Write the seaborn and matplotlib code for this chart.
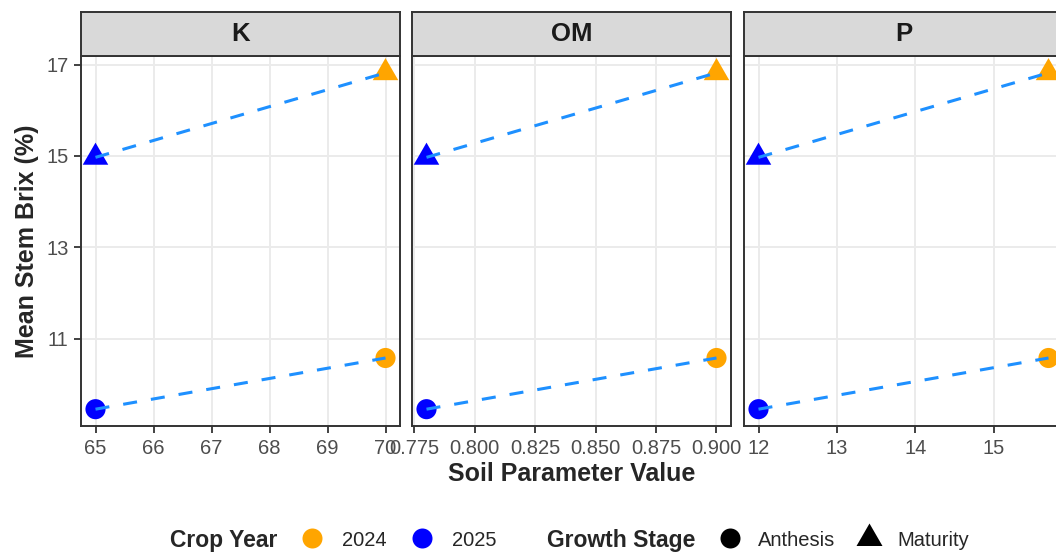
import numpy as np
import pandas as pd
import matplotlib
matplotlib.use("Agg")
import matplotlib.pyplot as plt
from matplotlib.path import Path
from matplotlib.lines import Line2D
from matplotlib.ticker import MultipleLocator, FormatStrFormatter
import seaborn as sns

# ---- data -------------------------------------------------------------
soil_params = ["K", "OM", "P"]
crop_years = ["2024", "2025"]
growth_stages = ["Anthesis", "Maturity"]

# soil parameter level per crop year (K, OM, P)
param_2024 = [70.0, 0.90, 15.7]
param_2025 = [65.0, 0.78, 12.0]

# mean stem brix per growth stage (2024, 2025)
brix_anthesis = [10.58, 9.46]
brix_maturity = [16.82, 14.97]

year_colors = {"2024": "#FFA500", "2025": "#0000FF"}
trend_color = "#1E90FF"

rows = []
for i, p in enumerate(soil_params):
    for j, yr in enumerate(crop_years):
        val = param_2024[i] if yr == "2024" else param_2025[i]
        rows.append((p, yr, "Anthesis", val, brix_anthesis[j]))
        rows.append((p, yr, "Maturity", val, brix_maturity[j]))
df = pd.DataFrame(rows, columns=["param", "year", "stage", "value", "brix"])

# ---- style ------------------------------------------------------------
sns.set_theme(style="white")
plt.rcParams["font.family"] = ["Liberation Sans", "DejaVu Sans"]
plt.rcParams["axes.xmargin"] = 0.05
plt.rcParams["axes.ymargin"] = 0.05

# equilateral triangle centred on its centroid
tri = Path([(0, 1.0), (-0.866, -0.5), (0.866, -0.5), (0, 1.0)],
           [Path.MOVETO, Path.LINETO, Path.LINETO, Path.CLOSEPOLY])

W, H = 1056, 554
fig = plt.figure(figsize=(W / 100, H / 100), dpi=100)

panel_left = [81, 412, 744]
panel_w = 319
panel_top, panel_bottom = 56, 426
strip_top = 12

x_steps = {"K": 1, "OM": 0.025, "P": 1}
x_fmt = {"K": "%d", "OM": "%.3f", "P": "%d"}

grey20 = "#333333"
axes = []
for k, p in enumerate(soil_params):
    l = panel_left[k]
    ax = fig.add_axes([l / W, (H - panel_bottom) / H, panel_w / W,
                       (panel_bottom - panel_top) / H])
    if axes:
        ax.sharey(axes[0])
    axes.append(ax)
    sub = df[df["param"] == p]

    sns.scatterplot(data=sub, x="value", y="brix", hue="year", style="stage",
                    size="stage", sizes={"Anthesis": 210, "Maturity": 450},
                    palette=year_colors,
                    markers={"Anthesis": "o", "Maturity": tri},
                    linewidth=0, legend=False, ax=ax, zorder=2)
    for st in growth_stages:
        sns.regplot(data=sub[sub["stage"] == st], x="value", y="brix",
                    scatter=False, ci=None, truncate=True, color=trend_color,
                    line_kws=dict(lw=2.2, ls=(0, (4.6, 4.6)), zorder=3),
                    ax=ax)

    ax.set_xlabel("")
    ax.set_ylabel("")
    ax.xaxis.set_major_locator(MultipleLocator(x_steps[p]))
    ax.xaxis.set_major_formatter(FormatStrFormatter(x_fmt[p]))
    ax.yaxis.set_major_locator(MultipleLocator(2, offset=1))
    ax.grid(True, color="#EBEBEB", lw=1.4)
    ax.set_axisbelow(True)
    for sp in ax.spines.values():
        sp.set_color(grey20)
        sp.set_linewidth(1.4)
        sp.set_zorder(5)
    ax.tick_params(axis="both", which="major", length=5, width=1.3,
                   color=grey20, labelcolor="#4D4D4D", labelsize=14.5, pad=4,
                   bottom=True, left=(k == 0), labelleft=(k == 0))

    # facet strip
    sax = fig.add_axes([l / W, (H - panel_top) / H, panel_w / W,
                        (panel_top - strip_top) / H])
    sax.set_facecolor("#D9D9D9")
    sax.set_xticks([])
    sax.set_yticks([])
    for sp in sax.spines.values():
        sp.set_color(grey20)
        sp.set_linewidth(1.4)
    sax.text(0.5, 0.5, p, ha="center", va="center", fontsize=18.5,
             fontweight="bold", color="#1A1A1A", transform=sax.transAxes)

fig.text(572 / W, 1 - 474 / H, "Soil Parameter Value", ha="center",
         va="center", fontsize=18, fontweight="bold")
fig.text(27 / W, 1 - 241 / H, "Mean Stem Brix (%)", ha="center",
         va="center", rotation=90, fontsize=18, fontweight="bold")

# ---- legends at the bottom ---------------------------------------------
leg_y = 1 - 540 / H
fig.text(170 / W, leg_y, "Crop Year", ha="left", va="center",
         fontsize=16.5, fontweight="bold")
fig.text(547 / W, leg_y, "Growth Stage", ha="left", va="center",
         fontsize=16.5, fontweight="bold")

year_handles = [Line2D([], [], ls="", marker="o", markersize=14.4,
                       markerfacecolor=year_colors[y], markeredgewidth=0)
                for y in crop_years]
stage_handles = [
    Line2D([], [], ls="", marker="o", markersize=14.4,
           markerfacecolor="black", markeredgewidth=0),
    Line2D([], [], ls="", marker=tri, markersize=21.6,
           markerfacecolor="black", markeredgewidth=0),
]
fs = 14.5
em = fs * 100 / 72
leg1 = fig.legend(year_handles, crop_years, loc="center left",
                  bbox_to_anchor=((312 - em / 2) / W, leg_y), ncol=2,
                  frameon=False, fontsize=fs, handlelength=1.0,
                  handletextpad=(342 - 312 - em / 2) / em,
                  columnspacing=1.25, borderpad=0, borderaxespad=0)
leg2 = fig.legend(stage_handles, growth_stages, loc="center left",
                  bbox_to_anchor=((730 - em / 2) / W, leg_y), ncol=2,
                  frameon=False, fontsize=fs, handlelength=1.0,
                  handletextpad=(758 - 730 - em / 2) / em,
                  columnspacing=1.2, borderpad=0, borderaxespad=0)

fig.savefig("out.png", dpi=100)
